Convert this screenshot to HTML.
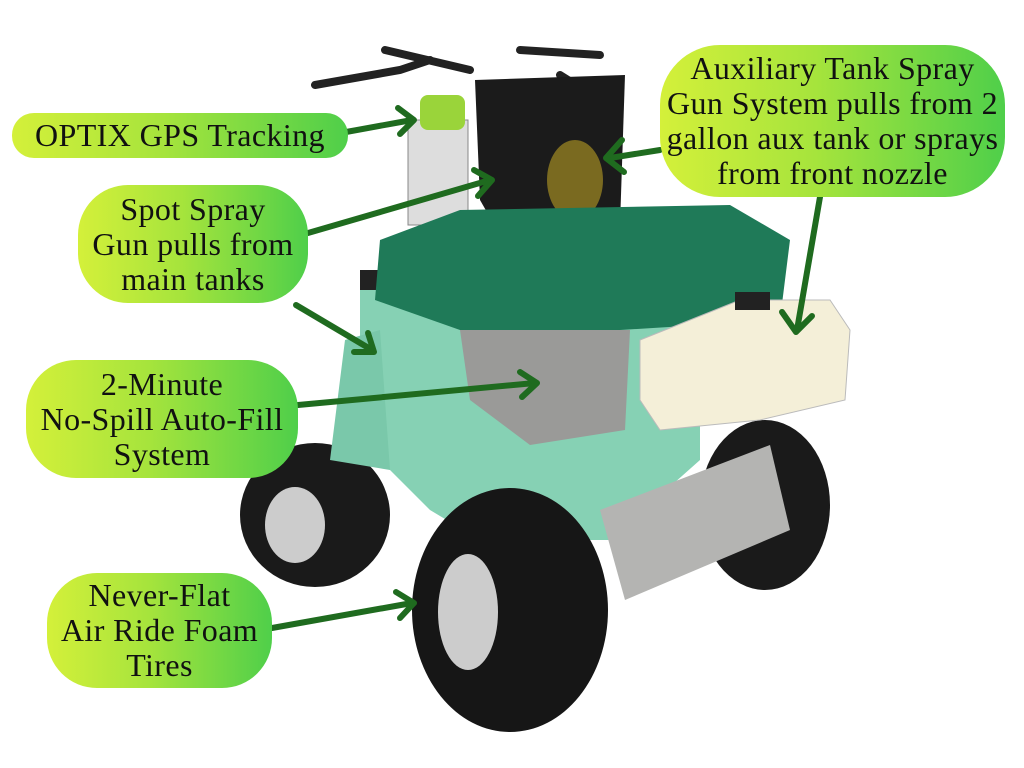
<!DOCTYPE html>
<html><head><meta charset="utf-8"><style>
html,body{margin:0;padding:0;background:#fff;width:1024px;height:768px;overflow:hidden}
.lbl{position:absolute;font-family:"Liberation Serif",serif;font-size:32px;letter-spacing:0.4px;line-height:35px;color:#111;text-align:center;display:flex;align-items:center;justify-content:center;background:linear-gradient(90deg,#d4f03a 0%,#a6e43c 45%,#4fcf4a 100%);white-space:nowrap}
</style></head><body>
<svg width="1024" height="768" style="position:absolute;left:0;top:0">
<g stroke="#222" stroke-width="8" fill="none" stroke-linecap="round">
<path d="M315 85 L400 70 L430 60"/><path d="M385 50 L470 70"/><path d="M520 50 L600 55"/><path d="M560 75 L600 100"/>
</g>
<rect x="408" y="120" width="60" height="105" fill="#ddd" stroke="#888"/>
<rect x="420" y="95" width="45" height="35" rx="8" fill="#9ad43a"/>
<path d="M475 80 L625 75 L620 225 L500 235 L480 200 Z" fill="#1b1b1b"/>
<ellipse cx="575" cy="180" rx="28" ry="40" fill="#7a6a20"/>
<ellipse cx="315" cy="515" rx="75" ry="72" fill="#1a1a1a"/>
<ellipse cx="295" cy="525" rx="30" ry="38" fill="#ccc"/>
<ellipse cx="765" cy="505" rx="65" ry="85" fill="#1a1a1a"/>
<path d="M360 280 L700 270 L700 460 L610 540 L480 540 L430 510 L360 440 Z" fill="#86d1b4"/>
<path d="M345 340 L380 330 L390 470 L330 460 Z" fill="#7ac8aa"/>
<rect x="360" y="270" width="30" height="20" fill="#222"/>
<path d="M380 240 L460 210 L730 205 L790 240 L780 320 L620 330 L460 330 L375 300 Z" fill="#1f7a58"/>
<path d="M460 330 L630 330 L625 430 L530 445 L470 400 Z" fill="#9a9a98"/>
<path d="M640 340 L740 300 L830 300 L850 330 L845 400 L760 420 L660 430 L640 400 Z" fill="#f4efd8" stroke="#bbb"/>
<rect x="735" y="292" width="35" height="18" fill="#222"/>
<ellipse cx="510" cy="610" rx="98" ry="122" fill="#161616"/>
<ellipse cx="468" cy="612" rx="30" ry="58" fill="#ccc"/>
<path d="M600 510 L770 445 L790 530 L625 600 Z" fill="#b4b4b2"/>
<g stroke="#1f6b1f" stroke-width="6" fill="none" stroke-linecap="round" stroke-linejoin="round">
<line x1="346" y1="132" x2="412" y2="120"/><path d="M398 108 L414 120 L400 134"/>
<line x1="308" y1="233" x2="490" y2="180"/><path d="M474 170 L492 180 L478 196"/>
<line x1="296" y1="305" x2="372" y2="350"/><path d="M354 352 L374 352 L368 333"/>
<line x1="298" y1="405" x2="535" y2="383"/><path d="M520 372 L537 383 L522 397"/>
<line x1="272" y1="628" x2="412" y2="603"/><path d="M396 592 L414 603 L400 618"/>
<line x1="660" y1="150" x2="610" y2="158"/><path d="M622 140 L606 158 L624 172"/>
<line x1="820" y1="197" x2="797" y2="330"/><path d="M782 312 L796 332 L812 316"/>
</g>
</svg>
<div class="lbl" style="left:12px;top:113px;width:336px;height:45px;border-radius:22px">OPTIX GPS Tracking</div>
<div class="lbl" style="left:78px;top:185px;width:230px;height:118px;border-radius:50px">Spot Spray<br>Gun pulls from<br>main tanks</div>
<div class="lbl" style="left:26px;top:360px;width:272px;height:118px;border-radius:50px">2-Minute<br>No-Spill Auto-Fill<br>System</div>
<div class="lbl" style="left:47px;top:573px;width:225px;height:115px;border-radius:50px">Never-Flat<br>Air Ride Foam<br>Tires</div>
<div class="lbl" style="left:660px;top:45px;width:345px;height:152px;border-radius:60px">Auxiliary Tank Spray<br>Gun System pulls from 2<br>gallon aux tank or sprays<br>from front nozzle</div>
</body></html>
